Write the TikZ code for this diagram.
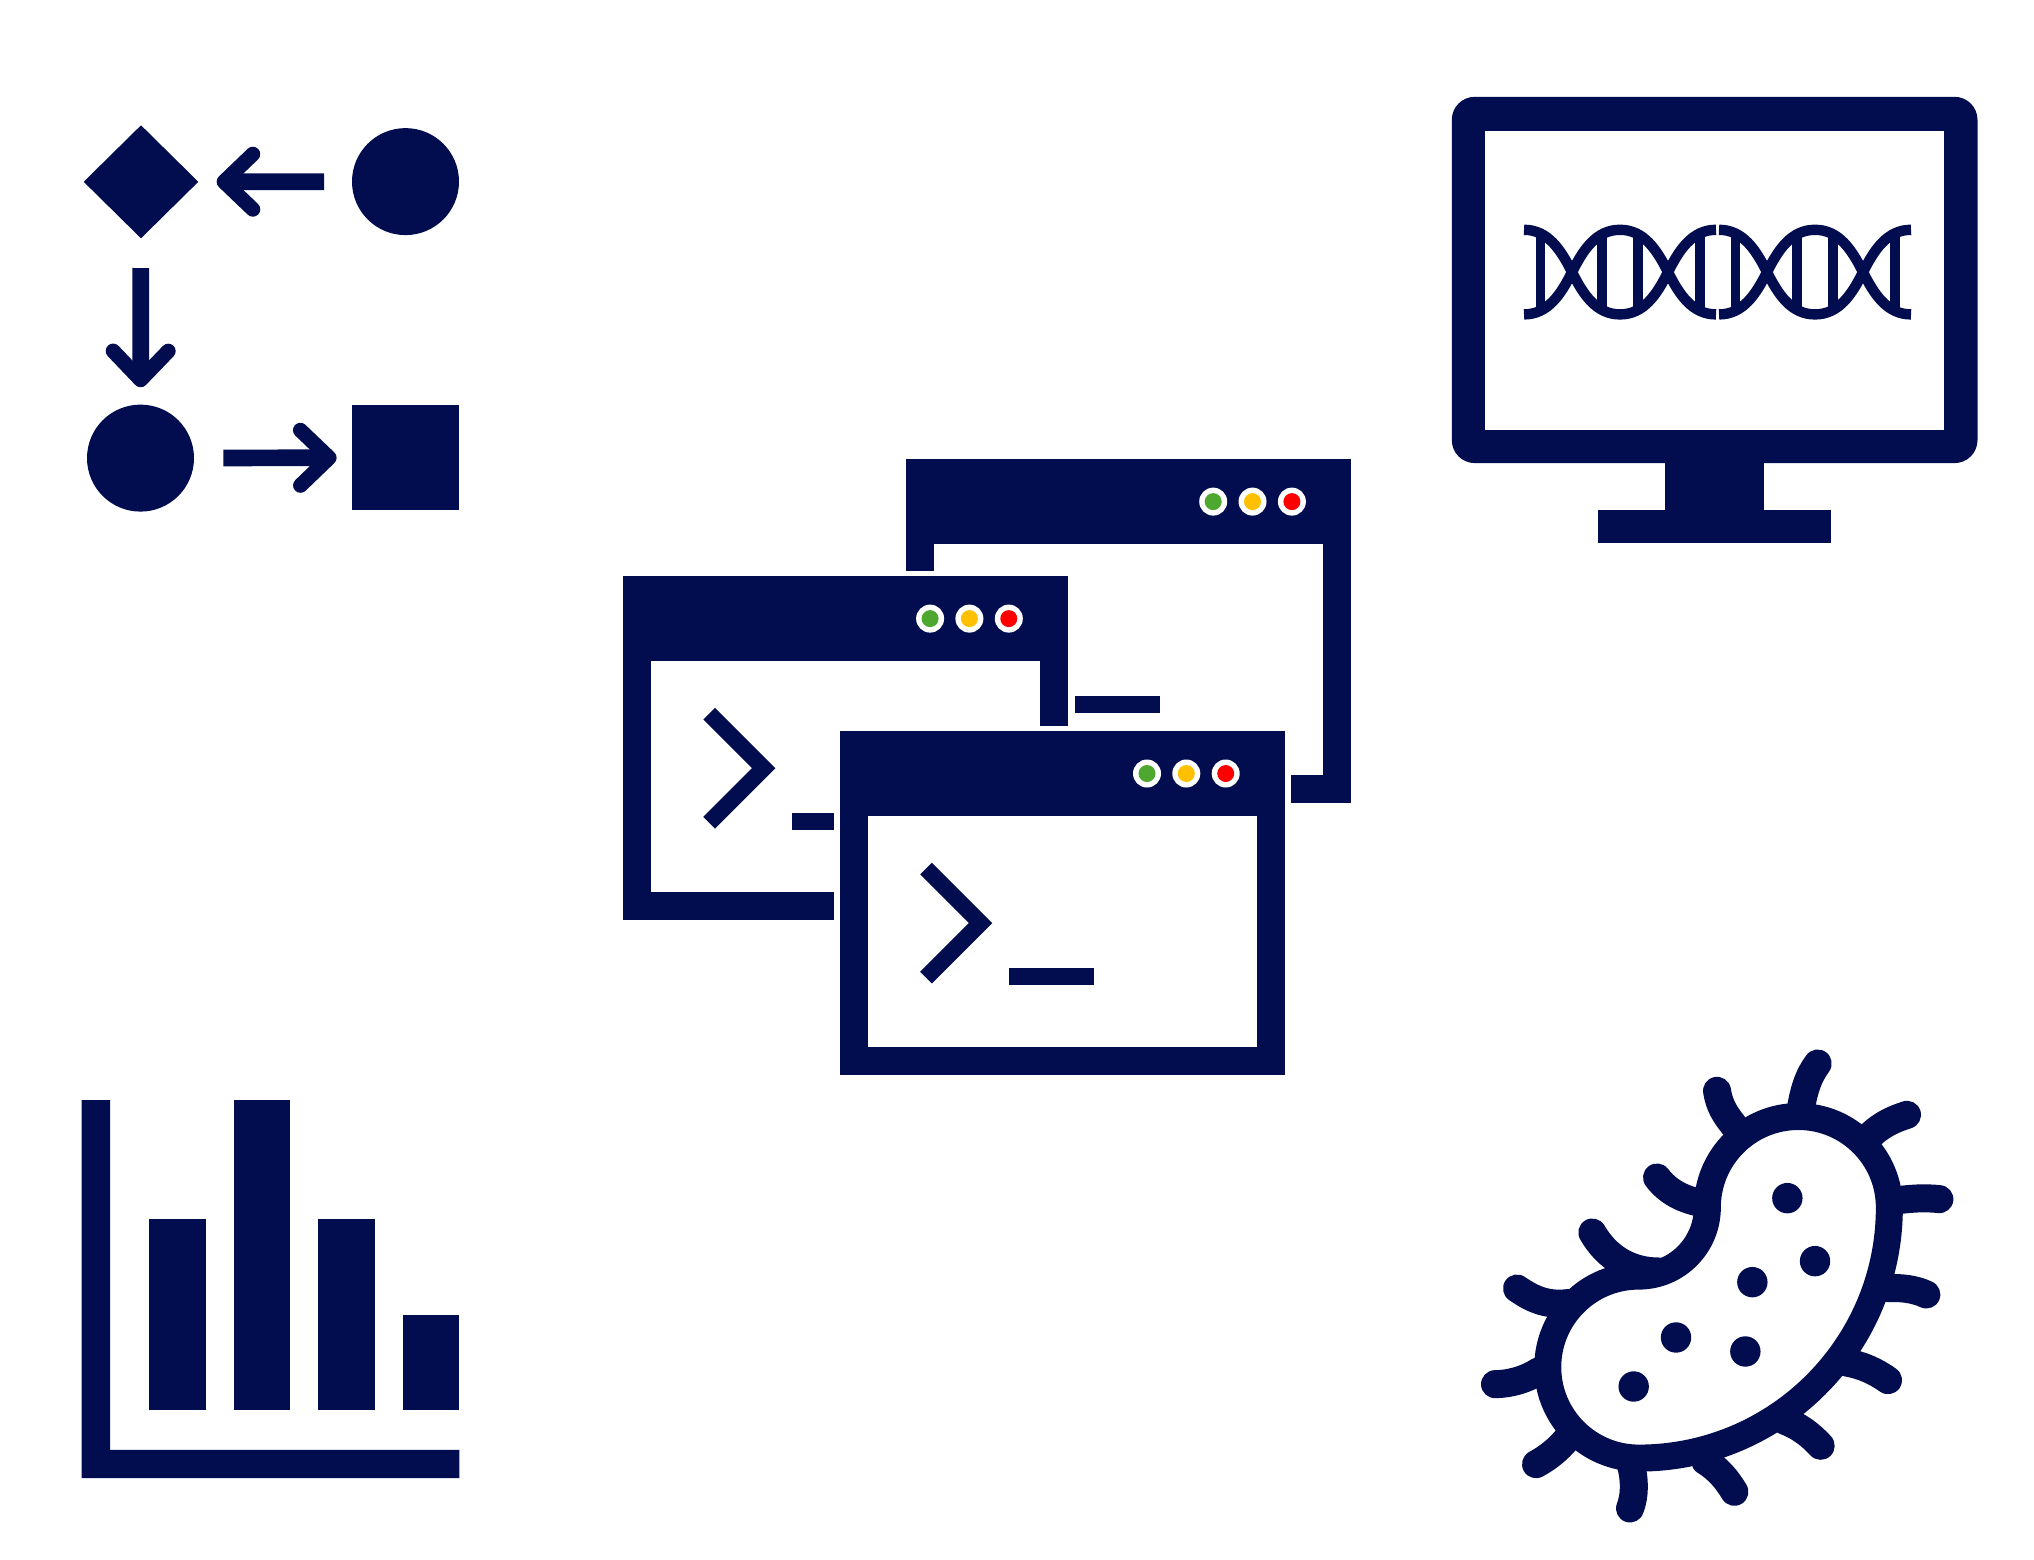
\documentclass[tikz,border=0pt]{standalone}
\usepackage{tikz}
\usetikzlibrary{arrows.meta,shapes.geometric}
\definecolor{iconblue}{HTML}{020D50}
\definecolor{dotgreen}{HTML}{4EA72E}
\definecolor{dotamber}{HTML}{FFC000}
\definecolor{dotred}{HTML}{FF0000}
\tikzset{
  shapenode/.style={fill=iconblue,inner sep=0pt,outer sep=0pt},
  flowarrow/.style={draw=iconblue,line width=8.35pt,-{Straight Barb[length=14.4pt,width=27.6pt,round,line width=7.4pt]}},
  flagellum/.style={draw=iconblue,line width=14pt,line cap=round},
  termwin/.pic={
    \fill[white] (-5.5,-5.5) rectangle (450.8,349.4); % halo
    \fill[iconblue] (0,0) rectangle (445.3,343.9);
    \fill[white] (28,84.6) rectangle (417.3,315.7);
    \draw[iconblue,line width=8.3pt,miter limit=4] (86.3,137.4) -- (140.8,191.9) -- (86.3,246.4);
    \fill[iconblue] (169.2,236.5) rectangle (253.7,253.8);
    \foreach \dotx/\dotcol in {307.2/dotgreen,346.5/dotamber,385.9/dotred} {
      \fill[white] (\dotx,42.3) circle[radius=7pt];
      \fill[\dotcol] (\dotx,42.3) circle[radius=4.25pt];
    }
  }
}
\begin{document}
\begin{tikzpicture}[x=0.5pt,y=-0.5pt]
  \path[fill=white,use as bounding box] (0,0) rectangle (2034,1559);
  \begin{scope}[yshift=-0.4pt]

  % flow chart, top left
  \node [shapenode,diamond,aspect=1,minimum width=57.3pt,minimum height=56.5pt] (diam) at (141,181) {};
  \node [shapenode,circle,minimum size=53.5pt] (circa) at (405.5,180.8) {};
  \node [shapenode,circle,minimum size=53.5pt] (circb) at (140.5,457.3) {};
  \node [shapenode,minimum width=53.5pt,minimum height=52.8pt] (sqr) at (405.5,456.8) {};
  \draw[flowarrow,shorten <=14pt,shorten >=9.2pt] (circa) -- (diam);
  \draw[flowarrow,shorten <=14.9pt,shorten >=8.7pt] (diam) -- (circb);
  \draw[flowarrow,shorten <=14.7pt,shorten >=7.7pt] (circb) -- (sqr);

  % monitor
  \fill[iconblue,rounded corners=11.5pt] (1451.8,96) rectangle (1977.5,462.3);
  \fill[iconblue] (1664.6,450) rectangle (1764.3,520);
  \fill[iconblue] (1597.9,509.3) rectangle (1831,542.3);
  \fill[white] (1484.6,129.7) rectangle (1944.3,429.3);
  \foreach \dnax in {1524,1719} {
    \foreach \dnasgn in {1,-1}
      \draw[iconblue,line width=5.2pt,shift={(\dnax,271.3)},yscale=\dnasgn] (0,-42.3)
        .. controls (24,-42.3) and (37,-22) .. (48,0)
        .. controls (59,22) and (72,42.3) .. (96,42.3)
        .. controls (120,42.3) and (133,22) .. (144,0)
        .. controls (155,-22) and (168,-42.3) .. (192,-42.3);
    \foreach \rungx in {16.4,78.2,114,175.7}
      \draw[iconblue,line width=4.8pt] (\dnax+\rungx,234.3) -- (\dnax+\rungx,308.3);
  }

  % terminal windows
  \pic at (906,458.5) {termwin};
  \pic at (622.9,575.5) {termwin};
  \pic at (839.8,730.4) {termwin};

  % bar chart
  \fill[iconblue] (81.7,1099.3) -- (110,1099.3) -- (110,1449) -- (459.3,1449) -- (459.3,1477.3) -- (81.7,1477.3) -- cycle;
  \foreach \barx/\bartop in {149.3/1217.7,234/1099.3,318.3/1217.7,403/1313.7}
    \fill[iconblue] (\barx,\bartop) rectangle (\barx+56.4,1409.3);

  % bacterium
  \begin{scope}[shift={(1470,1030)},x=0.16667pt,y=-0.16667pt]
    \draw[flagellum] (990,250) .. controls (1000,180) and (1015,135) .. (1043,98);
    \draw[flagellum] (790,282) .. controls (765,250) and (748,225) .. (741,180);
    \draw[flagellum] (1205,310) .. controls (1235,282) and (1270,265) .. (1311,252);
    \draw[flagellum] (1270,510) .. controls (1320,503) and (1365,500) .. (1408,505);
    \draw[flagellum] (1255,772) .. controls (1295,770) and (1335,775) .. (1369,791);
    \draw[flagellum] (1130,995) .. controls (1175,1003) and (1215,1020) .. (1254,1048);
    \draw[flagellum] (945,1170) .. controls (985,1185) and (1020,1210) .. (1052,1245);
    \draw[flagellum] (705,1290) .. controls (745,1315) and (770,1345) .. (793,1383);
    \draw[flagellum] (482,1300) .. controls (495,1345) and (495,1395) .. (480,1433);
    \draw[flagellum] (290,1225) .. controls (265,1255) and (235,1280) .. (198,1300);
    \draw[flagellum] (205,1022) .. controls (170,1045) and (120,1060) .. (75,1060);
    \draw[flagellum] (292,817) .. controls (225,825) and (180,800) .. (141,773);
    \draw[flagellum] (565,722) .. controls (480,722) and (410,680) .. (367,605);
    \draw[flagellum] (690,516) .. controls (640,505) and (595,485) .. (561,440);
    \draw[iconblue,fill=white,line width=13.5pt,line join=round] (712,530)
      arc[start angle=180,end angle=0,radius=45.5pt]
      arc[start angle=0,end angle=-90,radius=125.3pt]
      arc[start angle=-90,end angle=-270,radius=45.5pt]
      arc[start angle=-90,end angle=0,radius=34.3pt] -- cycle;
    \foreach \spotx/\spoty in {952/502,1035/691,847/754,618/920,826/962,491/1067}
      \fill[iconblue] (\spotx,\spoty) circle[radius=7.6pt];
  \end{scope}
  \end{scope}
\end{tikzpicture}
\end{document}
